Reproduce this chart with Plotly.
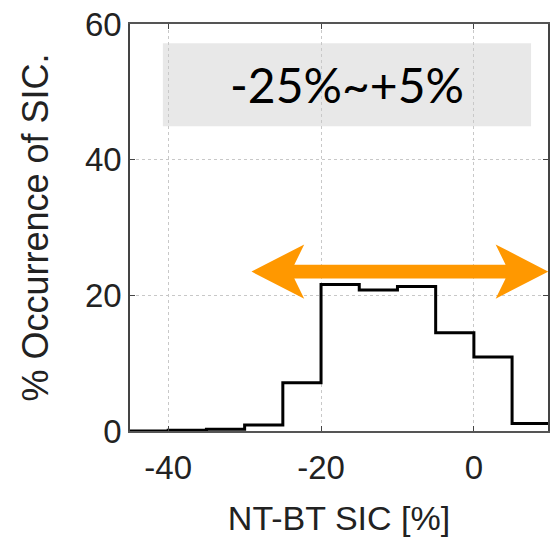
import plotly.graph_objects as go

# ---- data ----
bin_edges = [-45, -40, -35, -30, -25, -20, -15, -10, -5, 0, 5, 10]
occurrence = [0.0, 0.1, 0.25, 0.9, 7.1, 21.6, 20.8, 21.3, 14.5, 10.9, 1.1]
x_ticks = [-40, -20, 0]
x_ticktext = ["-40", "-20", "0"]
y_ticks = [0, 20, 40, 60]
y_ticktext = ["0", "20", "40", "60"]
range_label = "-25%~+5%"
arrow_x = [-29.1, 9.75]
arrow_y = 23.5

# step outline
xs = list(bin_edges)
ys = list(occurrence) + [occurrence[-1]]

fig = go.Figure()
fig.add_trace(go.Scatter(x=xs, y=ys, mode="lines", line_shape="hv",
                         line=dict(color="black", width=3), showlegend=False,
                         hoverinfo="skip"))

# double-headed arrow (data coords)
head_len = 6.9
notch = 5.6
head_half = 4.0
shaft_half = 1.0
xl, xr = arrow_x
y = arrow_y
path = (f"M {xl},{y} L {xl+head_len},{y+head_half} L {xl+notch},{y+shaft_half} "
        f"L {xr-notch},{y+shaft_half} L {xr-head_len},{y+head_half} L {xr},{y} "
        f"L {xr-head_len},{y-head_half} L {xr-notch},{y-shaft_half} "
        f"L {xl+notch},{y-shaft_half} L {xl+head_len},{y-head_half} Z")
fig.add_shape(type="path", path=path, xref="x", yref="y",
              fillcolor="#ff9800", line=dict(width=0))

# gray label box
fig.add_shape(type="rect", xref="paper", yref="paper",
              x0=0.0786, x1=0.9595, y0=0.749, y1=0.953,
              fillcolor="#e8e8e8", line=dict(width=0), layer="below")
fig.add_annotation(x=(0.0786 + 0.9595) / 2, y=(0.749 + 0.953) / 2,
                   xref="paper", yref="paper", text=range_label, showarrow=False,
                   font=dict(family="Lato", size=48, color="black"),
                   xanchor="center", yanchor="middle")

axis_font = dict(family="Liberation Sans, Arial", size=33, color="#222")
fig.update_layout(
    width=551, height=548,
    margin=dict(l=130, r=1, t=24, b=117),
    paper_bgcolor="white", plot_bgcolor="white",
    showlegend=False,
    xaxis=dict(range=[-45, 9.7], tickvals=x_ticks, ticktext=x_ticktext,
               ticks="inside", ticklen=5, ticklabelstandoff=7,
               tickcolor="#444", showline=True, linecolor="#555", linewidth=1.5,
               mirror="allticks", showgrid=True, gridcolor="#c8c8c8",
               griddash="dot", gridwidth=1, zeroline=False,
               tickfont=axis_font,
               title=dict(text="NT-BT SIC [%]", font=dict(family="Liberation Sans, Arial", size=34, color="#222"), standoff=21)),
    yaxis=dict(range=[0, 60], tickvals=y_ticks, ticktext=y_ticktext,
               ticks="inside", ticklen=5,
               tickcolor="#444", showline=True, linecolor="#444", linewidth=1.5,
               mirror="allticks", showgrid=True, gridcolor="#c8c8c8",
               griddash="dot", gridwidth=1, zeroline=False,
               tickfont=axis_font,
               title=dict(text="% Occurrence of SIC.", font=dict(family="Liberation Sans, Arial", size=36, color="#222"), standoff=25)),
)

fig.write_html("out.html")
